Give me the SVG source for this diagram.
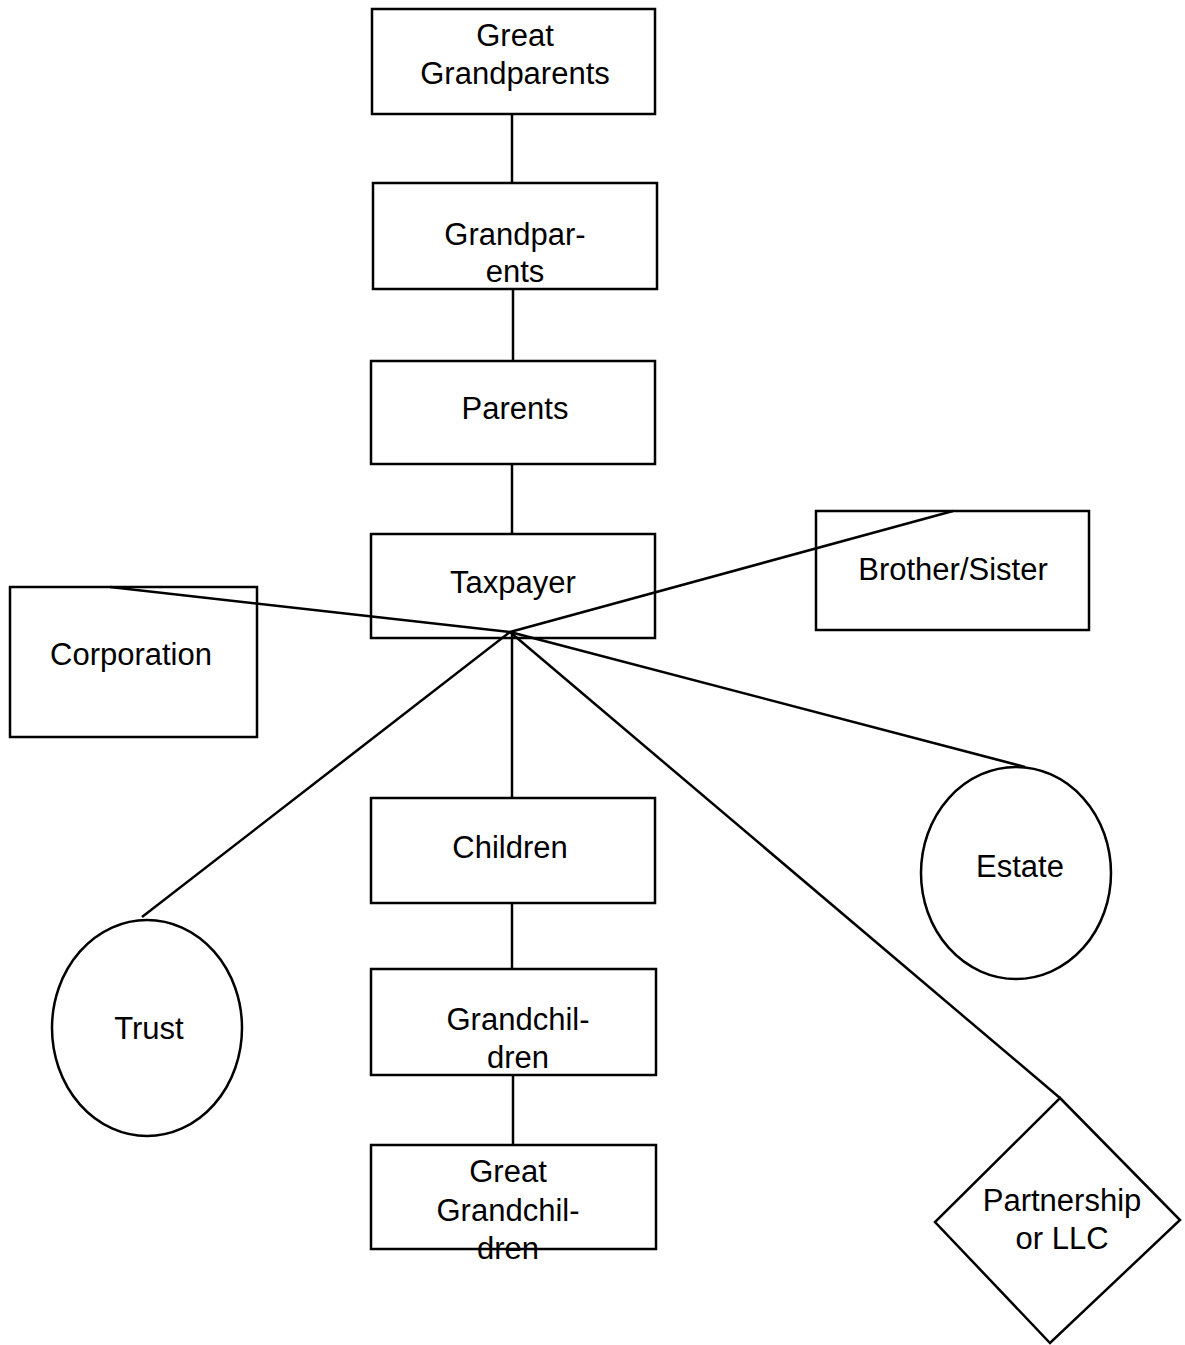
<svg xmlns="http://www.w3.org/2000/svg" width="1185" height="1345" viewBox="0 0 1185 1345">
<style>
.n{fill:#fff;stroke:#000;stroke-width:2.5}
.t{font-family:"Liberation Sans",Arial,sans-serif;font-size:31px;fill:#000;text-anchor:middle}
.c{stroke:#000;stroke-width:2.5;fill:none}
</style>
<rect width="1185" height="1345" fill="#fff"/>
<g id="node-great-grandparents"><rect class="n" x="372" y="9" width="283" height="105"/><text class="t" x="515" y="46">Great</text><text class="t" x="515" y="84">Grandparents</text></g>
<g id="node-grandparents"><rect class="n" x="373" y="183" width="284" height="106"/><text class="t" x="515" y="245">Grandpar-</text><text class="t" x="515" y="282">ents</text></g>
<g id="node-parents"><rect class="n" x="371" y="361" width="284" height="103"/><text class="t" x="515" y="419">Parents</text></g>
<g id="node-taxpayer"><rect class="n" x="371" y="534" width="284" height="104"/><text class="t" x="513" y="593">Taxpayer</text></g>
<g id="node-brother-sister"><rect class="n" x="816" y="511" width="273" height="119"/><text class="t" x="953" y="580">Brother/Sister</text></g>
<g id="node-corporation"><rect class="n" x="10" y="587" width="247" height="150"/><text class="t" x="131" y="665">Corporation</text></g>
<g id="node-children"><rect class="n" x="371" y="798" width="284" height="105"/><text class="t" x="510" y="858">Children</text></g>
<g id="node-grandchildren"><rect class="n" x="371" y="969" width="285" height="106"/><text class="t" x="518" y="1030">Grandchil-</text><text class="t" x="518" y="1068">dren</text></g>
<g id="node-trust"><ellipse class="n" cx="147" cy="1028" rx="95" ry="108"/><text class="t" x="149" y="1039">Trust</text></g>
<g id="node-estate"><ellipse class="n" cx="1016" cy="873" rx="95" ry="106"/><text class="t" x="1020" y="877">Estate</text></g>
<g id="node-partnership"><polygon class="n" points="1060,1098 1180,1220 1050,1343 935,1222"/><text class="t" x="1062" y="1211">Partnership</text><text class="t" x="1062" y="1249">or LLC</text></g>
<g id="connectors">
<line class="c" x1="512" y1="114" x2="512" y2="183"/>
<line class="c" x1="513" y1="289" x2="513" y2="361"/>
<line class="c" x1="512" y1="464" x2="512" y2="534"/>
<line class="c" x1="510" y1="632" x2="110" y2="587"/>
<line class="c" x1="510" y1="632" x2="953" y2="511"/>
<line class="c" x1="510" y1="632" x2="142" y2="917"/>
<line class="c" x1="512" y1="632" x2="512" y2="798"/>
<line class="c" x1="510" y1="632" x2="1060" y2="1098"/>
<line class="c" x1="510" y1="632" x2="1025" y2="767"/>
<line class="c" x1="512" y1="903" x2="512" y2="969"/>
<line class="c" x1="513" y1="1075" x2="513" y2="1145"/>
</g>
<g id="node-great-grandchildren"><rect class="n" x="371" y="1145" width="285" height="104" style="fill:none"/><text class="t" x="508" y="1182">Great</text><text class="t" x="508" y="1221">Grandchil-</text><text class="t" x="508" y="1259">dren</text></g>
</svg>
